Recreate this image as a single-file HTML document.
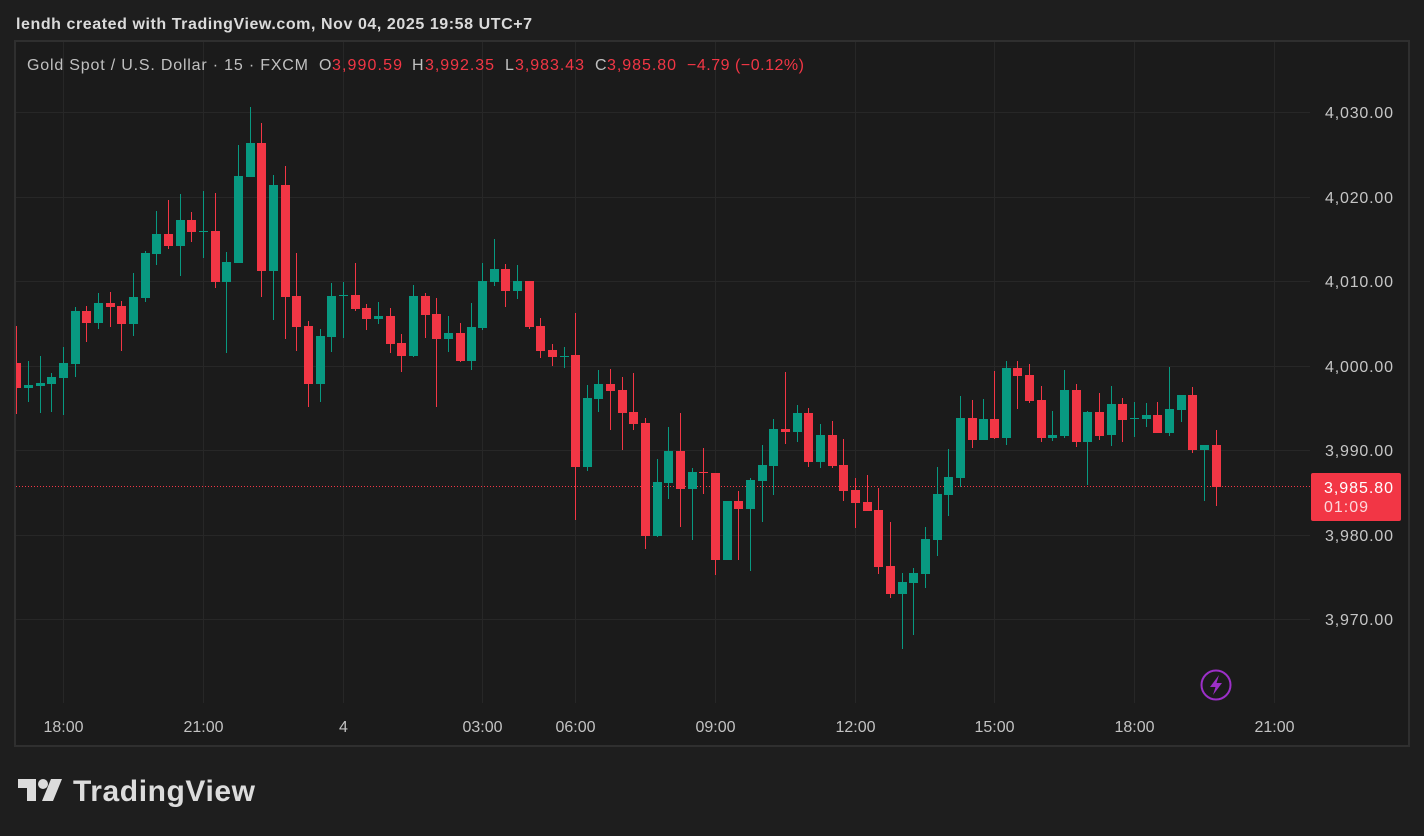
<!DOCTYPE html>
<html><head><meta charset="utf-8"><style>
html,body{margin:0;padding:0;background:#1e1e1e;}
svg{display:block;}
.g{fill:#089981}.r{fill:#f23645}
text{font-family:"Liberation Sans",Arial,sans-serif;}
</style></head><body>
<svg width="1424" height="836" viewBox="0 0 1424 836" xmlns="http://www.w3.org/2000/svg">
<rect x="0" y="0" width="1424" height="836" fill="#1e1e1e"/>
<!-- panel -->
<rect x="15" y="41" width="1394" height="705" fill="#1b1b1b" stroke="#2f2f2f" stroke-width="2"/>
<text x="16" y="29" fill="#dbdbdb" font-size="16" font-weight="bold" textLength="516" lengthAdjust="spacing">lendh created with TradingView.com, Nov 04, 2025 19:58 UTC+7</text>
<!-- grid -->
<g fill="#272727" shape-rendering="crispEdges">
<rect x="16" y="112" width="1294" height="1"/>
<rect x="16" y="197" width="1294" height="1"/>
<rect x="16" y="281" width="1294" height="1"/>
<rect x="16" y="366" width="1294" height="1"/>
<rect x="16" y="450" width="1294" height="1"/>
<rect x="16" y="535" width="1294" height="1"/>
<rect x="16" y="619" width="1294" height="1"/>
<rect x="63" y="42" width="1" height="661"/>
<rect x="203" y="42" width="1" height="661"/>
<rect x="343" y="42" width="1" height="661"/>
<rect x="482" y="42" width="1" height="661"/>
<rect x="575" y="42" width="1" height="661"/>
<rect x="715" y="42" width="1" height="661"/>
<rect x="855" y="42" width="1" height="661"/>
<rect x="994" y="42" width="1" height="661"/>
<rect x="1134" y="42" width="1" height="661"/>
<rect x="1274" y="42" width="1" height="661"/>
</g>
<!-- legend -->
<g font-size="16">
<text x="27" y="70" fill="#c0c0c0" textLength="281" lengthAdjust="spacing">Gold Spot / U.S. Dollar · 15 · FXCM</text>
<text x="319" y="70" fill="#c0c0c0">O</text>
<text x="332" y="70" fill="#f23645" textLength="70" lengthAdjust="spacing">3,990.59</text>
<text x="412" y="70" fill="#c0c0c0">H</text>
<text x="425" y="70" fill="#f23645" textLength="69" lengthAdjust="spacing">3,992.35</text>
<text x="505" y="70" fill="#c0c0c0">L</text>
<text x="515" y="70" fill="#f23645" textLength="69" lengthAdjust="spacing">3,983.43</text>
<text x="595" y="70" fill="#c0c0c0">C</text>
<text x="607" y="70" fill="#f23645" textLength="69" lengthAdjust="spacing">3,985.80</text>
<text x="687" y="70" fill="#f23645" textLength="117" lengthAdjust="spacing">−4.79 (−0.12%)</text>
</g>
<!-- price axis -->
<g font-size="16" fill="#c6c6c6">
<text x="1325" y="118" textLength="68" lengthAdjust="spacing">4,030.00</text>
<text x="1325" y="203" textLength="68" lengthAdjust="spacing">4,020.00</text>
<text x="1325" y="287" textLength="68" lengthAdjust="spacing">4,010.00</text>
<text x="1325" y="372" textLength="68" lengthAdjust="spacing">4,000.00</text>
<text x="1325" y="456" textLength="68" lengthAdjust="spacing">3,990.00</text>
<text x="1325" y="541" textLength="68" lengthAdjust="spacing">3,980.00</text>
<text x="1325" y="625" textLength="68" lengthAdjust="spacing">3,970.00</text>
</g>
<!-- time axis -->
<g font-size="16" fill="#c3c3c3" text-anchor="middle">
<text x="63.5" y="732">18:00</text>
<text x="203.5" y="732">21:00</text>
<text x="343.5" y="732">4</text>
<text x="482.5" y="732">03:00</text>
<text x="575.5" y="732">06:00</text>
<text x="715.5" y="732">09:00</text>
<text x="855.5" y="732">12:00</text>
<text x="994.5" y="732">15:00</text>
<text x="1134.5" y="732">18:00</text>
<text x="1274.5" y="732">21:00</text>
</g>
<defs><clipPath id="pc"><rect x="16" y="42" width="1294" height="661"/></clipPath></defs>
<g clip-path="url(#pc)" shape-rendering="crispEdges">
<!-- price line -->
<line x1="16" y1="486.5" x2="1310" y2="486.5" stroke="#f23645" stroke-width="1" stroke-dasharray="1,2"/>
<g class="r"><rect x="16" y="326" width="1" height="88"/><rect x="12" y="363" width="9" height="25"/></g>
<g class="g"><rect x="28" y="361" width="1" height="41"/><rect x="24" y="385" width="9" height="3"/></g>
<g class="g"><rect x="40" y="356" width="1" height="57"/><rect x="36" y="383" width="9" height="3"/></g>
<g class="g"><rect x="51" y="373" width="1" height="39"/><rect x="47" y="377" width="9" height="7"/></g>
<g class="g"><rect x="63" y="347" width="1" height="68"/><rect x="59" y="363" width="9" height="15"/></g>
<g class="g"><rect x="75" y="307" width="1" height="70"/><rect x="71" y="311" width="9" height="53"/></g>
<g class="r"><rect x="86" y="306" width="1" height="36"/><rect x="82" y="311" width="9" height="12"/></g>
<g class="g"><rect x="98" y="293" width="1" height="36"/><rect x="94" y="303" width="9" height="20"/></g>
<g class="r"><rect x="110" y="292" width="1" height="35"/><rect x="106" y="303" width="9" height="4"/></g>
<g class="r"><rect x="121" y="301" width="1" height="50"/><rect x="117" y="306" width="9" height="18"/></g>
<g class="g"><rect x="133" y="273" width="1" height="63"/><rect x="129" y="297" width="9" height="27"/></g>
<g class="g"><rect x="145" y="251" width="1" height="51"/><rect x="141" y="253" width="9" height="45"/></g>
<g class="g"><rect x="156" y="211" width="1" height="54"/><rect x="152" y="234" width="9" height="20"/></g>
<g class="r"><rect x="168" y="200" width="1" height="49"/><rect x="164" y="234" width="9" height="12"/></g>
<g class="g"><rect x="180" y="194" width="1" height="82"/><rect x="176" y="220" width="9" height="26"/></g>
<g class="r"><rect x="191" y="212" width="1" height="30"/><rect x="187" y="220" width="9" height="12"/></g>
<g class="g"><rect x="203" y="191" width="1" height="67"/><rect x="199" y="231" width="9" height="1"/></g>
<g class="r"><rect x="215" y="193" width="1" height="95"/><rect x="211" y="231" width="9" height="51"/></g>
<g class="g"><rect x="226" y="252" width="1" height="101"/><rect x="222" y="262" width="9" height="20"/></g>
<g class="g"><rect x="238" y="145" width="1" height="118"/><rect x="234" y="176" width="9" height="87"/></g>
<g class="g"><rect x="250" y="107" width="1" height="70"/><rect x="246" y="143" width="9" height="34"/></g>
<g class="r"><rect x="261" y="123" width="1" height="174"/><rect x="257" y="143" width="9" height="128"/></g>
<g class="g"><rect x="273" y="175" width="1" height="145"/><rect x="269" y="185" width="9" height="86"/></g>
<g class="r"><rect x="285" y="166" width="1" height="173"/><rect x="281" y="185" width="9" height="112"/></g>
<g class="r"><rect x="296" y="253" width="1" height="98"/><rect x="292" y="296" width="9" height="31"/></g>
<g class="r"><rect x="308" y="321" width="1" height="86"/><rect x="304" y="326" width="9" height="58"/></g>
<g class="g"><rect x="320" y="329" width="1" height="73"/><rect x="316" y="336" width="9" height="48"/></g>
<g class="g"><rect x="331" y="283" width="1" height="69"/><rect x="327" y="296" width="9" height="41"/></g>
<g class="g"><rect x="343" y="282" width="1" height="56"/><rect x="339" y="295" width="9" height="1"/></g>
<g class="r"><rect x="355" y="263" width="1" height="48"/><rect x="351" y="295" width="9" height="14"/></g>
<g class="r"><rect x="366" y="304" width="1" height="26"/><rect x="362" y="308" width="9" height="11"/></g>
<g class="g"><rect x="378" y="302" width="1" height="22"/><rect x="374" y="316" width="9" height="3"/></g>
<g class="r"><rect x="390" y="308" width="1" height="45"/><rect x="386" y="316" width="9" height="28"/></g>
<g class="r"><rect x="401" y="334" width="1" height="38"/><rect x="397" y="343" width="9" height="13"/></g>
<g class="g"><rect x="413" y="285" width="1" height="72"/><rect x="409" y="296" width="9" height="60"/></g>
<g class="r"><rect x="425" y="293" width="1" height="45"/><rect x="421" y="296" width="9" height="19"/></g>
<g class="r"><rect x="436" y="298" width="1" height="109"/><rect x="432" y="314" width="9" height="25"/></g>
<g class="g"><rect x="448" y="316" width="1" height="36"/><rect x="444" y="333" width="9" height="6"/></g>
<g class="r"><rect x="460" y="323" width="1" height="39"/><rect x="456" y="333" width="9" height="28"/></g>
<g class="g"><rect x="471" y="303" width="1" height="67"/><rect x="467" y="327" width="9" height="34"/></g>
<g class="g"><rect x="482" y="263" width="1" height="67"/><rect x="478" y="281" width="9" height="47"/></g>
<g class="g"><rect x="494" y="239" width="1" height="47"/><rect x="490" y="269" width="9" height="13"/></g>
<g class="r"><rect x="505" y="264" width="1" height="43"/><rect x="501" y="269" width="9" height="22"/></g>
<g class="g"><rect x="517" y="265" width="1" height="34"/><rect x="513" y="281" width="9" height="10"/></g>
<g class="r"><rect x="529" y="281" width="1" height="48"/><rect x="525" y="281" width="9" height="46"/></g>
<g class="r"><rect x="540" y="318" width="1" height="40"/><rect x="536" y="326" width="9" height="25"/></g>
<g class="r"><rect x="552" y="344" width="1" height="22"/><rect x="548" y="350" width="9" height="7"/></g>
<g class="g"><rect x="564" y="347" width="1" height="21"/><rect x="560" y="356" width="9" height="1"/></g>
<g class="r"><rect x="575" y="313" width="1" height="207"/><rect x="571" y="355" width="9" height="112"/></g>
<g class="g"><rect x="587" y="385" width="1" height="86"/><rect x="583" y="398" width="9" height="69"/></g>
<g class="g"><rect x="598" y="370" width="1" height="42"/><rect x="594" y="384" width="9" height="15"/></g>
<g class="r"><rect x="610" y="369" width="1" height="61"/><rect x="606" y="384" width="9" height="7"/></g>
<g class="r"><rect x="622" y="377" width="1" height="73"/><rect x="618" y="390" width="9" height="23"/></g>
<g class="r"><rect x="633" y="373" width="1" height="57"/><rect x="629" y="412" width="9" height="12"/></g>
<g class="r"><rect x="645" y="418" width="1" height="131"/><rect x="641" y="423" width="9" height="113"/></g>
<g class="g"><rect x="657" y="459" width="1" height="78"/><rect x="653" y="482" width="9" height="54"/></g>
<g class="g"><rect x="668" y="427" width="1" height="72"/><rect x="664" y="451" width="9" height="32"/></g>
<g class="r"><rect x="680" y="413" width="1" height="114"/><rect x="676" y="451" width="9" height="38"/></g>
<g class="g"><rect x="692" y="468" width="1" height="72"/><rect x="688" y="472" width="9" height="17"/></g>
<g class="r"><rect x="703" y="448" width="1" height="46"/><rect x="699" y="472" width="9" height="1"/></g>
<g class="r"><rect x="715" y="473" width="1" height="102"/><rect x="711" y="473" width="9" height="87"/></g>
<g class="g"><rect x="727" y="501" width="1" height="59"/><rect x="723" y="501" width="9" height="59"/></g>
<g class="r"><rect x="738" y="491" width="1" height="69"/><rect x="734" y="501" width="9" height="8"/></g>
<g class="g"><rect x="750" y="478" width="1" height="93"/><rect x="746" y="480" width="9" height="29"/></g>
<g class="g"><rect x="762" y="445" width="1" height="77"/><rect x="758" y="465" width="9" height="16"/></g>
<g class="g"><rect x="773" y="419" width="1" height="76"/><rect x="769" y="429" width="9" height="37"/></g>
<g class="r"><rect x="785" y="372" width="1" height="72"/><rect x="781" y="429" width="9" height="3"/></g>
<g class="g"><rect x="797" y="405" width="1" height="37"/><rect x="793" y="413" width="9" height="19"/></g>
<g class="r"><rect x="808" y="408" width="1" height="59"/><rect x="804" y="413" width="9" height="49"/></g>
<g class="g"><rect x="820" y="424" width="1" height="44"/><rect x="816" y="435" width="9" height="27"/></g>
<g class="r"><rect x="832" y="421" width="1" height="47"/><rect x="828" y="435" width="9" height="31"/></g>
<g class="r"><rect x="843" y="439" width="1" height="62"/><rect x="839" y="465" width="9" height="26"/></g>
<g class="r"><rect x="855" y="478" width="1" height="50"/><rect x="851" y="490" width="9" height="13"/></g>
<g class="r"><rect x="867" y="475" width="1" height="36"/><rect x="863" y="502" width="9" height="9"/></g>
<g class="r"><rect x="878" y="488" width="1" height="86"/><rect x="874" y="510" width="9" height="57"/></g>
<g class="r"><rect x="890" y="522" width="1" height="76"/><rect x="886" y="566" width="9" height="28"/></g>
<g class="g"><rect x="902" y="573" width="1" height="76"/><rect x="898" y="582" width="9" height="12"/></g>
<g class="g"><rect x="913" y="568" width="1" height="67"/><rect x="909" y="573" width="9" height="10"/></g>
<g class="g"><rect x="925" y="527" width="1" height="61"/><rect x="921" y="539" width="9" height="35"/></g>
<g class="g"><rect x="937" y="467" width="1" height="89"/><rect x="933" y="494" width="9" height="46"/></g>
<g class="g"><rect x="948" y="449" width="1" height="67"/><rect x="944" y="477" width="9" height="18"/></g>
<g class="g"><rect x="960" y="396" width="1" height="91"/><rect x="956" y="418" width="9" height="60"/></g>
<g class="r"><rect x="972" y="400" width="1" height="48"/><rect x="968" y="418" width="9" height="22"/></g>
<g class="g"><rect x="983" y="399" width="1" height="41"/><rect x="979" y="419" width="9" height="21"/></g>
<g class="r"><rect x="994" y="371" width="1" height="68"/><rect x="990" y="419" width="9" height="19"/></g>
<g class="g"><rect x="1006" y="361" width="1" height="84"/><rect x="1002" y="368" width="9" height="70"/></g>
<g class="r"><rect x="1017" y="361" width="1" height="48"/><rect x="1013" y="368" width="9" height="8"/></g>
<g class="r"><rect x="1029" y="364" width="1" height="39"/><rect x="1025" y="375" width="9" height="26"/></g>
<g class="r"><rect x="1041" y="386" width="1" height="56"/><rect x="1037" y="400" width="9" height="38"/></g>
<g class="g"><rect x="1052" y="411" width="1" height="30"/><rect x="1048" y="435" width="9" height="3"/></g>
<g class="g"><rect x="1064" y="370" width="1" height="68"/><rect x="1060" y="390" width="9" height="46"/></g>
<g class="r"><rect x="1076" y="384" width="1" height="63"/><rect x="1072" y="390" width="9" height="52"/></g>
<g class="g"><rect x="1087" y="411" width="1" height="74"/><rect x="1083" y="412" width="9" height="30"/></g>
<g class="r"><rect x="1099" y="393" width="1" height="47"/><rect x="1095" y="412" width="9" height="24"/></g>
<g class="g"><rect x="1111" y="386" width="1" height="60"/><rect x="1107" y="404" width="9" height="31"/></g>
<g class="r"><rect x="1122" y="398" width="1" height="44"/><rect x="1118" y="404" width="9" height="16"/></g>
<g class="g"><rect x="1134" y="402" width="1" height="35"/><rect x="1130" y="418" width="9" height="1"/></g>
<g class="g"><rect x="1146" y="403" width="1" height="24"/><rect x="1142" y="415" width="9" height="4"/></g>
<g class="r"><rect x="1157" y="402" width="1" height="31"/><rect x="1153" y="415" width="9" height="18"/></g>
<g class="g"><rect x="1169" y="367" width="1" height="69"/><rect x="1165" y="409" width="9" height="24"/></g>
<g class="g"><rect x="1181" y="395" width="1" height="27"/><rect x="1177" y="395" width="9" height="15"/></g>
<g class="r"><rect x="1192" y="387" width="1" height="66"/><rect x="1188" y="395" width="9" height="55"/></g>
<g class="g"><rect x="1204" y="445" width="1" height="56"/><rect x="1200" y="445" width="9" height="5"/></g>
<g class="r"><rect x="1216" y="430" width="1" height="76"/><rect x="1212" y="445" width="9" height="42"/></g>
</g>
<!-- last price label -->
<rect x="1311" y="473" width="90" height="48" rx="2" fill="#f23645"/>
<text x="1324" y="493" fill="#ffffff" font-size="16" textLength="69" lengthAdjust="spacing">3,985.80</text>
<text x="1324" y="512" fill="#fcd7db" font-size="16" textLength="44" lengthAdjust="spacing">01:09</text>
<!-- lightning icon -->
<circle cx="1216" cy="685" r="14.5" fill="none" stroke="#9c2fc8" stroke-width="2"/>
<path d="M1219 675 L1210 687 L1215.5 687 L1213 695 L1222 683 L1216.5 683 Z" fill="#9c2fc8"/>
<!-- TradingView logo -->
<g fill="#dcdcdc">
<rect x="18" y="779" width="18" height="9"/>
<rect x="27" y="779" width="9" height="22"/>
<circle cx="43" cy="784" r="5"/>
<polygon points="51,779 62,779 53,801 42,801"/>
<text x="73" y="801" font-size="30" font-weight="bold" textLength="182" lengthAdjust="spacing">TradingView</text>
</g>
</svg>
</body></html>
